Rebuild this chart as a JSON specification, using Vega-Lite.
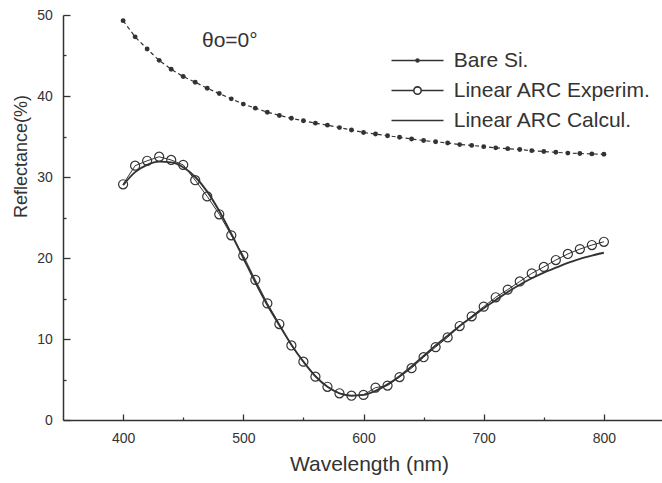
{
  "$schema": "https://vega.github.io/schema/vega-lite/v6.json",
  "autosize": "none",
  "width": 601,
  "height": 405,
  "padding": {"left": 63, "top": 15, "right": 0, "bottom": 63},
  "background": "#ffffff",
  "title": {"text": "θo=0°", "orient": "top", "frame": "group", "anchor": "start", "align": "left", "baseline": "alphabetic", "offset": 0, "dx": 139, "dy": 60, "font": "Liberation Sans", "fontSize": 21, "fontWeight": "normal", "color": "#333333"},
  "config": {
    "view": {"stroke": null},
    "font": "Liberation Sans",
    "axis": {"grid": false, "domainColor": "#333333", "domainWidth": 1.5, "tickColor": "#333333", "tickWidth": 1.3, "labelColor": "#333333", "labelFont": "Liberation Sans", "labelFontSize": 14, "titleColor": "#333333", "titleFont": "Liberation Sans", "titleFontWeight": "normal"}
  },
  "resolve": {"axis": {"x": "independent", "y": "independent"}},
  "datasets": {
    "curves": [
      {"s": "Bare Si.", "wl": 400, "r": 49.3}, {"s": "Bare Si.", "wl": 410, "r": 47.3}, {"s": "Bare Si.", "wl": 420, "r": 45.8}, {"s": "Bare Si.", "wl": 430, "r": 44.4}, {"s": "Bare Si.", "wl": 440, "r": 43.3}, {"s": "Bare Si.", "wl": 450, "r": 42.4}, {"s": "Bare Si.", "wl": 460, "r": 41.7}, {"s": "Bare Si.", "wl": 470, "r": 40.95}, {"s": "Bare Si.", "wl": 480, "r": 40.3}, {"s": "Bare Si.", "wl": 490, "r": 39.65}, {"s": "Bare Si.", "wl": 500, "r": 39.0}, {"s": "Bare Si.", "wl": 510, "r": 38.5}, {"s": "Bare Si.", "wl": 520, "r": 38.0}, {"s": "Bare Si.", "wl": 530, "r": 37.6}, {"s": "Bare Si.", "wl": 540, "r": 37.25}, {"s": "Bare Si.", "wl": 550, "r": 36.95}, {"s": "Bare Si.", "wl": 560, "r": 36.65}, {"s": "Bare Si.", "wl": 570, "r": 36.4}, {"s": "Bare Si.", "wl": 580, "r": 36.1}, {"s": "Bare Si.", "wl": 590, "r": 35.8}, {"s": "Bare Si.", "wl": 600, "r": 35.5}, {"s": "Bare Si.", "wl": 610, "r": 35.3}, {"s": "Bare Si.", "wl": 620, "r": 35.1}, {"s": "Bare Si.", "wl": 630, "r": 34.9}, {"s": "Bare Si.", "wl": 640, "r": 34.7}, {"s": "Bare Si.", "wl": 650, "r": 34.5}, {"s": "Bare Si.", "wl": 660, "r": 34.35}, {"s": "Bare Si.", "wl": 670, "r": 34.2}, {"s": "Bare Si.", "wl": 680, "r": 34.0}, {"s": "Bare Si.", "wl": 690, "r": 33.9}, {"s": "Bare Si.", "wl": 700, "r": 33.75}, {"s": "Bare Si.", "wl": 710, "r": 33.6}, {"s": "Bare Si.", "wl": 720, "r": 33.5}, {"s": "Bare Si.", "wl": 730, "r": 33.4}, {"s": "Bare Si.", "wl": 740, "r": 33.25}, {"s": "Bare Si.", "wl": 750, "r": 33.15}, {"s": "Bare Si.", "wl": 760, "r": 33.05}, {"s": "Bare Si.", "wl": 770, "r": 32.95}, {"s": "Bare Si.", "wl": 780, "r": 32.9}, {"s": "Bare Si.", "wl": 790, "r": 32.85}, {"s": "Bare Si.", "wl": 800, "r": 32.8},
      {"s": "Linear ARC Experim.", "wl": 400, "r": 29.1}, {"s": "Linear ARC Experim.", "wl": 410, "r": 31.4}, {"s": "Linear ARC Experim.", "wl": 420, "r": 32.0}, {"s": "Linear ARC Experim.", "wl": 430, "r": 32.5}, {"s": "Linear ARC Experim.", "wl": 440, "r": 32.1}, {"s": "Linear ARC Experim.", "wl": 450, "r": 31.5}, {"s": "Linear ARC Experim.", "wl": 460, "r": 29.6}, {"s": "Linear ARC Experim.", "wl": 470, "r": 27.6}, {"s": "Linear ARC Experim.", "wl": 480, "r": 25.4}, {"s": "Linear ARC Experim.", "wl": 490, "r": 22.8}, {"s": "Linear ARC Experim.", "wl": 500, "r": 20.3}, {"s": "Linear ARC Experim.", "wl": 510, "r": 17.3}, {"s": "Linear ARC Experim.", "wl": 520, "r": 14.4}, {"s": "Linear ARC Experim.", "wl": 530, "r": 11.85}, {"s": "Linear ARC Experim.", "wl": 540, "r": 9.2}, {"s": "Linear ARC Experim.", "wl": 550, "r": 7.2}, {"s": "Linear ARC Experim.", "wl": 560, "r": 5.35}, {"s": "Linear ARC Experim.", "wl": 570, "r": 4.1}, {"s": "Linear ARC Experim.", "wl": 580, "r": 3.3}, {"s": "Linear ARC Experim.", "wl": 590, "r": 3.0}, {"s": "Linear ARC Experim.", "wl": 600, "r": 3.1}, {"s": "Linear ARC Experim.", "wl": 610, "r": 4.0}, {"s": "Linear ARC Experim.", "wl": 620, "r": 4.25}, {"s": "Linear ARC Experim.", "wl": 630, "r": 5.3}, {"s": "Linear ARC Experim.", "wl": 640, "r": 6.4}, {"s": "Linear ARC Experim.", "wl": 650, "r": 7.75}, {"s": "Linear ARC Experim.", "wl": 660, "r": 9.0}, {"s": "Linear ARC Experim.", "wl": 670, "r": 10.2}, {"s": "Linear ARC Experim.", "wl": 680, "r": 11.6}, {"s": "Linear ARC Experim.", "wl": 690, "r": 12.8}, {"s": "Linear ARC Experim.", "wl": 700, "r": 14.0}, {"s": "Linear ARC Experim.", "wl": 710, "r": 15.15}, {"s": "Linear ARC Experim.", "wl": 720, "r": 16.1}, {"s": "Linear ARC Experim.", "wl": 730, "r": 17.1}, {"s": "Linear ARC Experim.", "wl": 740, "r": 18.1}, {"s": "Linear ARC Experim.", "wl": 750, "r": 18.9}, {"s": "Linear ARC Experim.", "wl": 760, "r": 19.75}, {"s": "Linear ARC Experim.", "wl": 770, "r": 20.5}, {"s": "Linear ARC Experim.", "wl": 780, "r": 21.1}, {"s": "Linear ARC Experim.", "wl": 790, "r": 21.6}, {"s": "Linear ARC Experim.", "wl": 800, "r": 22.0},
      {"s": "Linear ARC Calcul.", "wl": 400, "r": 29.0}, {"s": "Linear ARC Calcul.", "wl": 410, "r": 30.6}, {"s": "Linear ARC Calcul.", "wl": 420, "r": 31.5}, {"s": "Linear ARC Calcul.", "wl": 430, "r": 31.9}, {"s": "Linear ARC Calcul.", "wl": 440, "r": 31.8}, {"s": "Linear ARC Calcul.", "wl": 450, "r": 31.2}, {"s": "Linear ARC Calcul.", "wl": 460, "r": 30.0}, {"s": "Linear ARC Calcul.", "wl": 470, "r": 28.2}, {"s": "Linear ARC Calcul.", "wl": 480, "r": 25.8}, {"s": "Linear ARC Calcul.", "wl": 490, "r": 23.0}, {"s": "Linear ARC Calcul.", "wl": 500, "r": 20.0}, {"s": "Linear ARC Calcul.", "wl": 510, "r": 17.0}, {"s": "Linear ARC Calcul.", "wl": 520, "r": 14.2}, {"s": "Linear ARC Calcul.", "wl": 530, "r": 11.7}, {"s": "Linear ARC Calcul.", "wl": 540, "r": 9.3}, {"s": "Linear ARC Calcul.", "wl": 550, "r": 7.2}, {"s": "Linear ARC Calcul.", "wl": 560, "r": 5.4}, {"s": "Linear ARC Calcul.", "wl": 570, "r": 4.1}, {"s": "Linear ARC Calcul.", "wl": 580, "r": 3.3}, {"s": "Linear ARC Calcul.", "wl": 590, "r": 3.0}, {"s": "Linear ARC Calcul.", "wl": 600, "r": 3.1}, {"s": "Linear ARC Calcul.", "wl": 610, "r": 3.6}, {"s": "Linear ARC Calcul.", "wl": 620, "r": 4.4}, {"s": "Linear ARC Calcul.", "wl": 630, "r": 5.4}, {"s": "Linear ARC Calcul.", "wl": 640, "r": 6.6}, {"s": "Linear ARC Calcul.", "wl": 650, "r": 7.9}, {"s": "Linear ARC Calcul.", "wl": 660, "r": 9.2}, {"s": "Linear ARC Calcul.", "wl": 670, "r": 10.4}, {"s": "Linear ARC Calcul.", "wl": 680, "r": 11.6}, {"s": "Linear ARC Calcul.", "wl": 690, "r": 12.7}, {"s": "Linear ARC Calcul.", "wl": 700, "r": 13.8}, {"s": "Linear ARC Calcul.", "wl": 710, "r": 14.8}, {"s": "Linear ARC Calcul.", "wl": 720, "r": 15.8}, {"s": "Linear ARC Calcul.", "wl": 730, "r": 16.7}, {"s": "Linear ARC Calcul.", "wl": 740, "r": 17.5}, {"s": "Linear ARC Calcul.", "wl": 750, "r": 18.2}, {"s": "Linear ARC Calcul.", "wl": 760, "r": 18.8}, {"s": "Linear ARC Calcul.", "wl": 770, "r": 19.4}, {"s": "Linear ARC Calcul.", "wl": 780, "r": 19.9}, {"s": "Linear ARC Calcul.", "wl": 790, "r": 20.3}, {"s": "Linear ARC Calcul.", "wl": 800, "r": 20.65}
    ]
  },
  "data": {"name": "curves"},
  "encoding": {
    "x": {"field": "wl", "type": "quantitative", "scale": {"domain": [350, 850], "nice": false}, "axis": null},
    "y": {"field": "r", "type": "quantitative", "scale": {"domain": [0, 50], "nice": false}, "axis": null}
  },
  "layer": [
    {"transform": [{"filter": "datum.s === 'Bare Si.'"}], "mark": {"type": "line", "color": "#333333", "strokeWidth": 1.2, "strokeDash": [4, 3]},
      "encoding": {
        "x": {"field": "wl", "type": "quantitative", "scale": {"domain": [350, 850], "nice": false},
          "axis": {"orient": "bottom", "offset": -6, "values": [400, 500, 600, 700, 800], "tickSize": 6, "domain": false, "labelPadding": 11.7,
            "title": "Wavelength (nm)", "titleFontSize": 21, "titleX": 306, "titleY": 56, "titleBaseline": "alphabetic", "titleAlign": "center", "titleAnchor": null}},
        "y": {"field": "r", "type": "quantitative", "scale": {"domain": [0, 50], "nice": false},
          "axis": {"orient": "left", "offset": -7, "values": [0, 10, 20, 30, 40, 50], "tickSize": 7, "domain": false, "labelPadding": 10.7,
            "title": "Reflectance(%)", "titleFontSize": 18, "titleX": -44, "titleY": 141, "titleBaseline": "alphabetic", "titleAlign": "center", "titleAngle": -90, "titleAnchor": null}}
      }},
    {"transform": [{"filter": "datum.s === 'Bare Si.'"}], "mark": {"type": "point", "filled": true, "color": "#333333", "size": 24, "opacity": 1}},
    {"transform": [{"filter": "datum.s === 'Linear ARC Experim.'"}], "mark": {"type": "line", "color": "#333333", "strokeWidth": 1},
      "encoding": {
        "x": {"field": "wl", "type": "quantitative", "scale": {"domain": [350, 850], "nice": false},
          "axis": {"orient": "bottom", "offset": -3, "values": [450, 550, 650, 750], "tickSize": 3, "labels": false, "domain": false, "title": null}},
        "y": {"field": "r", "type": "quantitative", "scale": {"domain": [0, 50], "nice": false},
          "axis": {"orient": "left", "offset": -3, "values": [5, 15, 25, 35, 45], "tickSize": 3, "labels": false, "domain": false, "title": null}}
      }},
    {"transform": [{"filter": "datum.s === 'Linear ARC Calcul.'"}], "mark": {"type": "line", "color": "#333333", "strokeWidth": 1.9, "interpolate": "monotone"},
      "encoding": {
        "x": {"field": "wl", "type": "quantitative", "scale": {"domain": [350, 850], "nice": false},
          "axis": {"orient": "bottom", "offset": 0, "ticks": false, "labels": false, "domain": true, "title": null}},
        "y": {"field": "r", "type": "quantitative", "scale": {"domain": [0, 50], "nice": false},
          "axis": {"orient": "left", "offset": 0, "ticks": false, "labels": false, "domain": true, "title": null}}
      }},
    {"transform": [{"filter": "datum.s === 'Linear ARC Experim.'"}], "mark": {"type": "point", "filled": false, "color": "#333333", "size": 82, "strokeWidth": 1.2, "opacity": 1}},
    {"mark": {"type": "point", "opacity": 0, "filled": false},
      "encoding": {
        "shape": {"field": "s", "type": "nominal",
          "scale": {"domain": ["Bare Si.", "Linear ARC Experim.", "Linear ARC Calcul."],
            "range": ["M-2.476,0H2.476M-0.14,0A0.14,0.14 0 1,0 0.14,0A0.14,0.14 0 1,0 -0.14,0M-0.07,0A0.07,0.07 0 1,0 0.07,0A0.07,0.07 0 1,0 -0.07,0",
                      "M-2.476,0H-0.35M0.35,0H2.476M-0.35,0A0.35,0.35 0 1,0 0.35,0A0.35,0.35 0 1,0 -0.35,0",
                      "M-2.476,0H2.476"]},
          "legend": {"title": null, "orient": "none", "legendX": 343, "legendY": 34, "symbolSize": 441, "symbolStrokeWidth": 1.6, "symbolStrokeColor": "#333333", "symbolFillColor": "transparent", "symbolOpacity": 1, "labelFont": "Liberation Sans", "labelFontSize": 21, "labelColor": "#333333", "labelOffset": 24.7, "rowPadding": 8, "padding": 0, "labelLimit": 400}},
        "color": {"value": "#333333"}
      }}
  ]
}
